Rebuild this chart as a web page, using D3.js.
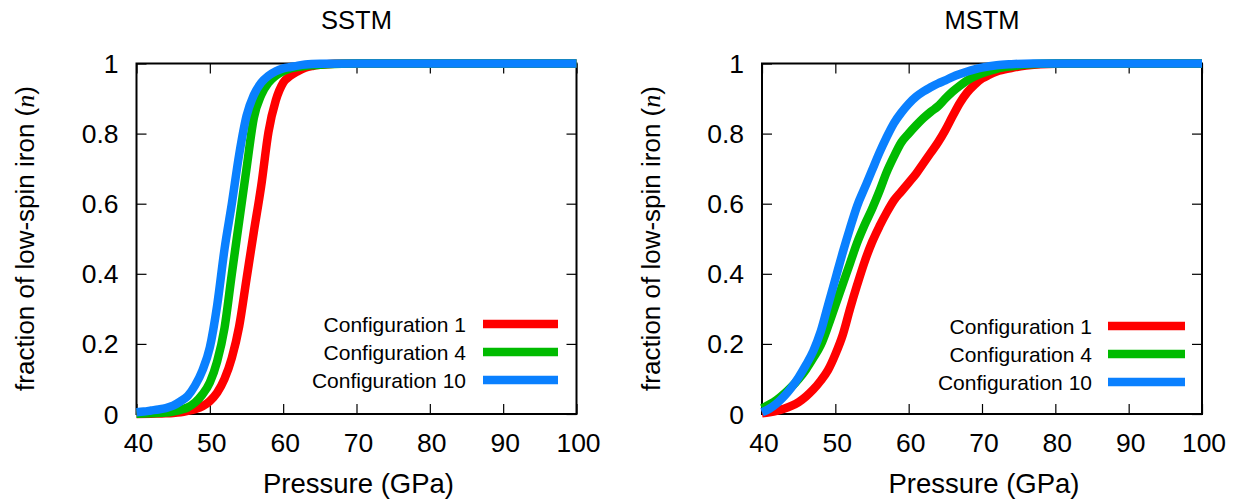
<!DOCTYPE html>
<html>
<head>
<meta charset="utf-8">
<script src="https://cdn.jsdelivr.net/npm/d3@7/dist/d3.min.js"></script>
<style>
  html, body { margin: 0; padding: 0; background: #fff; }
  svg text { font-family: "Liberation Sans", Arial, Helvetica, sans-serif; fill: #000; }
</style>
</head>
<body>
<svg id="chart" width="1239" height="503"></svg>
<script>
// Pressure grid (GPa) and low-spin fractions for each configuration
const sstmConfig1P  = [40, 42, 44, 45, 46, 47, 48, 49, 50, 51, 52, 53, 54, 55, 56, 57, 58, 59, 60, 61, 62, 63, 64, 65, 67, 70, 80, 100];
const sstmConfig1N  = [0.0, 0.001, 0.002, 0.003, 0.005, 0.009, 0.014, 0.022, 0.037, 0.061, 0.10, 0.16, 0.25, 0.385, 0.52, 0.65, 0.805, 0.895, 0.945, 0.965, 0.978, 0.988, 0.993, 0.996, 0.999, 1, 1, 1];

const sstmConfig4P  = [40, 42, 44, 45, 46, 47, 48, 49, 50, 51, 52, 53, 54, 55, 56, 57, 58, 59, 60, 61, 62, 63, 64, 66, 70, 80, 100];
const sstmConfig4N  = [0.001, 0.002, 0.004, 0.007, 0.012, 0.019, 0.033, 0.056, 0.09, 0.15, 0.245, 0.40, 0.55, 0.70, 0.845, 0.91, 0.945, 0.965, 0.978, 0.986, 0.99, 0.993, 0.995, 0.998, 1, 1, 1];

const sstmConfig10P = [40, 41, 42, 43, 44, 45, 46, 47, 48, 49, 50, 51, 52, 53, 54, 55, 56, 57, 58, 59, 60, 61, 62, 63, 65, 70, 80, 100];
const sstmConfig10N = [0.005, 0.007, 0.01, 0.013, 0.017, 0.024, 0.036, 0.052, 0.082, 0.125, 0.19, 0.31, 0.47, 0.60, 0.74, 0.85, 0.91, 0.945, 0.965, 0.978, 0.986, 0.99, 0.994, 0.997, 0.999, 1, 1, 1];

const mstmConfig1P  = [40, 41, 42, 43, 44, 45, 46, 47, 48, 49, 50, 51, 52, 53, 54, 55, 56, 57, 58, 59, 60, 61, 62, 63, 64, 65, 66, 67, 68, 69, 70, 71, 72, 74, 76, 78, 82, 100];
const mstmConfig1N  = [0.002, 0.005, 0.009, 0.015, 0.023, 0.034, 0.05, 0.07, 0.095, 0.125, 0.17, 0.225, 0.30, 0.37, 0.435, 0.49, 0.535, 0.575, 0.61, 0.635, 0.66, 0.685, 0.715, 0.745, 0.775, 0.81, 0.85, 0.888, 0.918, 0.94, 0.957, 0.968, 0.977, 0.987, 0.994, 0.998, 1, 1];

const mstmConfig4P  = [40, 41, 42, 43, 44, 45, 46, 47, 48, 49, 50, 51, 52, 53, 54, 55, 56, 57, 58, 59, 60, 61, 62, 63, 64, 65, 66, 67, 68, 69, 70, 72, 74, 76, 80, 100];
const mstmConfig4N  = [0.016, 0.027, 0.04, 0.057, 0.077, 0.10, 0.127, 0.16, 0.196, 0.25, 0.31, 0.37, 0.43, 0.49, 0.54, 0.585, 0.635, 0.69, 0.735, 0.775, 0.80, 0.823, 0.844, 0.862, 0.878, 0.90, 0.92, 0.937, 0.952, 0.963, 0.972, 0.985, 0.992, 0.997, 1, 1];

const mstmConfig10P = [40, 41, 42, 43, 44, 45, 46, 47, 48, 49, 50, 51, 52, 53, 54, 55, 56, 57, 58, 59, 60, 61, 62, 63, 64, 65, 66, 67, 68, 69, 70, 72, 74, 77, 100];
const mstmConfig10N = [0.005, 0.015, 0.03, 0.05, 0.075, 0.105, 0.14, 0.18, 0.235, 0.31, 0.385, 0.46, 0.53, 0.595, 0.645, 0.695, 0.745, 0.79, 0.83, 0.86, 0.885, 0.905, 0.92, 0.932, 0.943, 0.952, 0.962, 0.97, 0.977, 0.983, 0.988, 0.995, 0.998, 1, 1];

const seriesNames  = ["Configuration 1", "Configuration 4", "Configuration 10"];
const seriesColors = ["#ff0000", "#00bb00", "#0a80ff"];
const xTicks = [40, 50, 60, 70, 80, 90, 100];
const yTicks = [0, 0.2, 0.4, 0.6, 0.8, 1];
const yTickLabels = ["0", "0.2", "0.4", "0.6", "0.8", "1"];

const zip = (p, n) => p.map((v, i) => ({ p: v, n: n[i] }));

const panels = [
  {
    title: "SSTM",
    left: 136.5, right: 576.5,
    series: [zip(sstmConfig1P, sstmConfig1N), zip(sstmConfig4P, sstmConfig4N), zip(sstmConfig10P, sstmConfig10N)],
    legendTextX: 466, legendLine: [483, 558], legendY: 324
  },
  {
    title: "MSTM",
    left: 762, right: 1202,
    series: [zip(mstmConfig1P, mstmConfig1N), zip(mstmConfig4P, mstmConfig4N), zip(mstmConfig10P, mstmConfig10N)],
    legendTextX: 1092, legendLine: [1108, 1185], legendY: 326
  }
];

const plotTop = 63.5, plotBottom = 414;
const tickFont = 26.5, titleFont = 25.5, labelFont = 26, xTitleFont = 27.5, legendFont = 21;
const svg = d3.select("#chart");

panels.forEach(panel => {
  const x = d3.scaleLinear().domain([40, 100]).range([panel.left, panel.right]);
  const y = d3.scaleLinear().domain([0, 1]).range([plotBottom, plotTop]);
  const g = svg.append("g");
  const tickLen = 10;

  // Inward ticks on all four sides
  const axB = d3.axisBottom(x).tickValues(xTicks).tickSizeInner(-tickLen).tickSizeOuter(0).tickFormat("");
  const axT = d3.axisTop(x).tickValues(xTicks).tickSizeInner(-tickLen).tickSizeOuter(0).tickFormat("");
  const axL = d3.axisLeft(y).tickValues(yTicks).tickSizeInner(-tickLen).tickSizeOuter(0).tickFormat("");
  const axR = d3.axisRight(y).tickValues(yTicks).tickSizeInner(-tickLen).tickSizeOuter(0).tickFormat("");
  [[axB, `translate(0,${plotBottom})`], [axT, `translate(0,${plotTop})`],
   [axL, `translate(${panel.left},0)`], [axR, `translate(${panel.right},0)`]].forEach(([ax, tr]) => {
    const a = g.append("g").attr("transform", tr).call(ax);
    a.select(".domain").remove();
    a.selectAll("line").attr("stroke", "#000").attr("stroke-width", 1.2);
  });

  // Frame
  g.append("rect")
    .attr("x", panel.left).attr("y", plotTop)
    .attr("width", panel.right - panel.left).attr("height", plotBottom - plotTop)
    .attr("fill", "none").attr("stroke", "#000").attr("stroke-width", 2);

  // Tick labels
  g.selectAll(".xlab").data(xTicks).enter().append("text")
    .attr("x", d => x(d) + 2).attr("y", 452)
    .attr("text-anchor", "middle").attr("font-size", tickFont)
    .text(d => d);
  g.selectAll(".ylab").data(yTicks).enter().append("text")
    .attr("x", panel.left - 18).attr("y", d => y(d) + 9.5)
    .attr("text-anchor", "end").attr("font-size", tickFont)
    .text((d, i) => yTickLabels[i]);

  // Titles
  const cx = (panel.left + panel.right) / 2;
  g.append("text").attr("x", cx).attr("y", 29)
    .attr("text-anchor", "middle").attr("font-size", titleFont).text(panel.title);
  g.append("text").attr("x", cx + 2).attr("y", 493)
    .attr("text-anchor", "middle").attr("font-size", xTitleFont).text("Pressure (GPa)");
  const yl = g.append("text")
    .attr("transform", `translate(${panel.left - 102.5},${238.5}) rotate(-90)`)
    .attr("text-anchor", "middle").attr("font-size", labelFont);
  yl.append("tspan").text("fraction of low-spin iron (");
  yl.append("tspan").attr("font-family", "'Liberation Serif', 'DejaVu Serif', serif").attr("font-style", "italic").text("n");
  yl.append("tspan").text(")");

  // Curves
  const line = d3.line().x(d => x(d.p)).y(d => y(d.n)).curve(d3.curveMonotoneX);
  panel.series.forEach((s, i) => {
    g.append("path").datum(s)
      .attr("d", line)
      .attr("fill", "none")
      .attr("stroke", seriesColors[i])
      .attr("stroke-width", 8.5)
      .attr("stroke-linejoin", "round")
      .attr("stroke-linecap", "butt");
  });

  // Legend
  seriesNames.forEach((name, i) => {
    const ly = panel.legendY + i * 28;
    g.append("text").attr("x", panel.legendTextX).attr("y", ly + 8)
      .attr("text-anchor", "end").attr("font-size", legendFont)
      .text(name);
    g.append("line")
      .attr("x1", panel.legendLine[0]).attr("x2", panel.legendLine[1])
      .attr("y1", ly).attr("y2", ly)
      .attr("stroke", seriesColors[i]).attr("stroke-width", 8.5);
  });
});
</script>
</body>
</html>
